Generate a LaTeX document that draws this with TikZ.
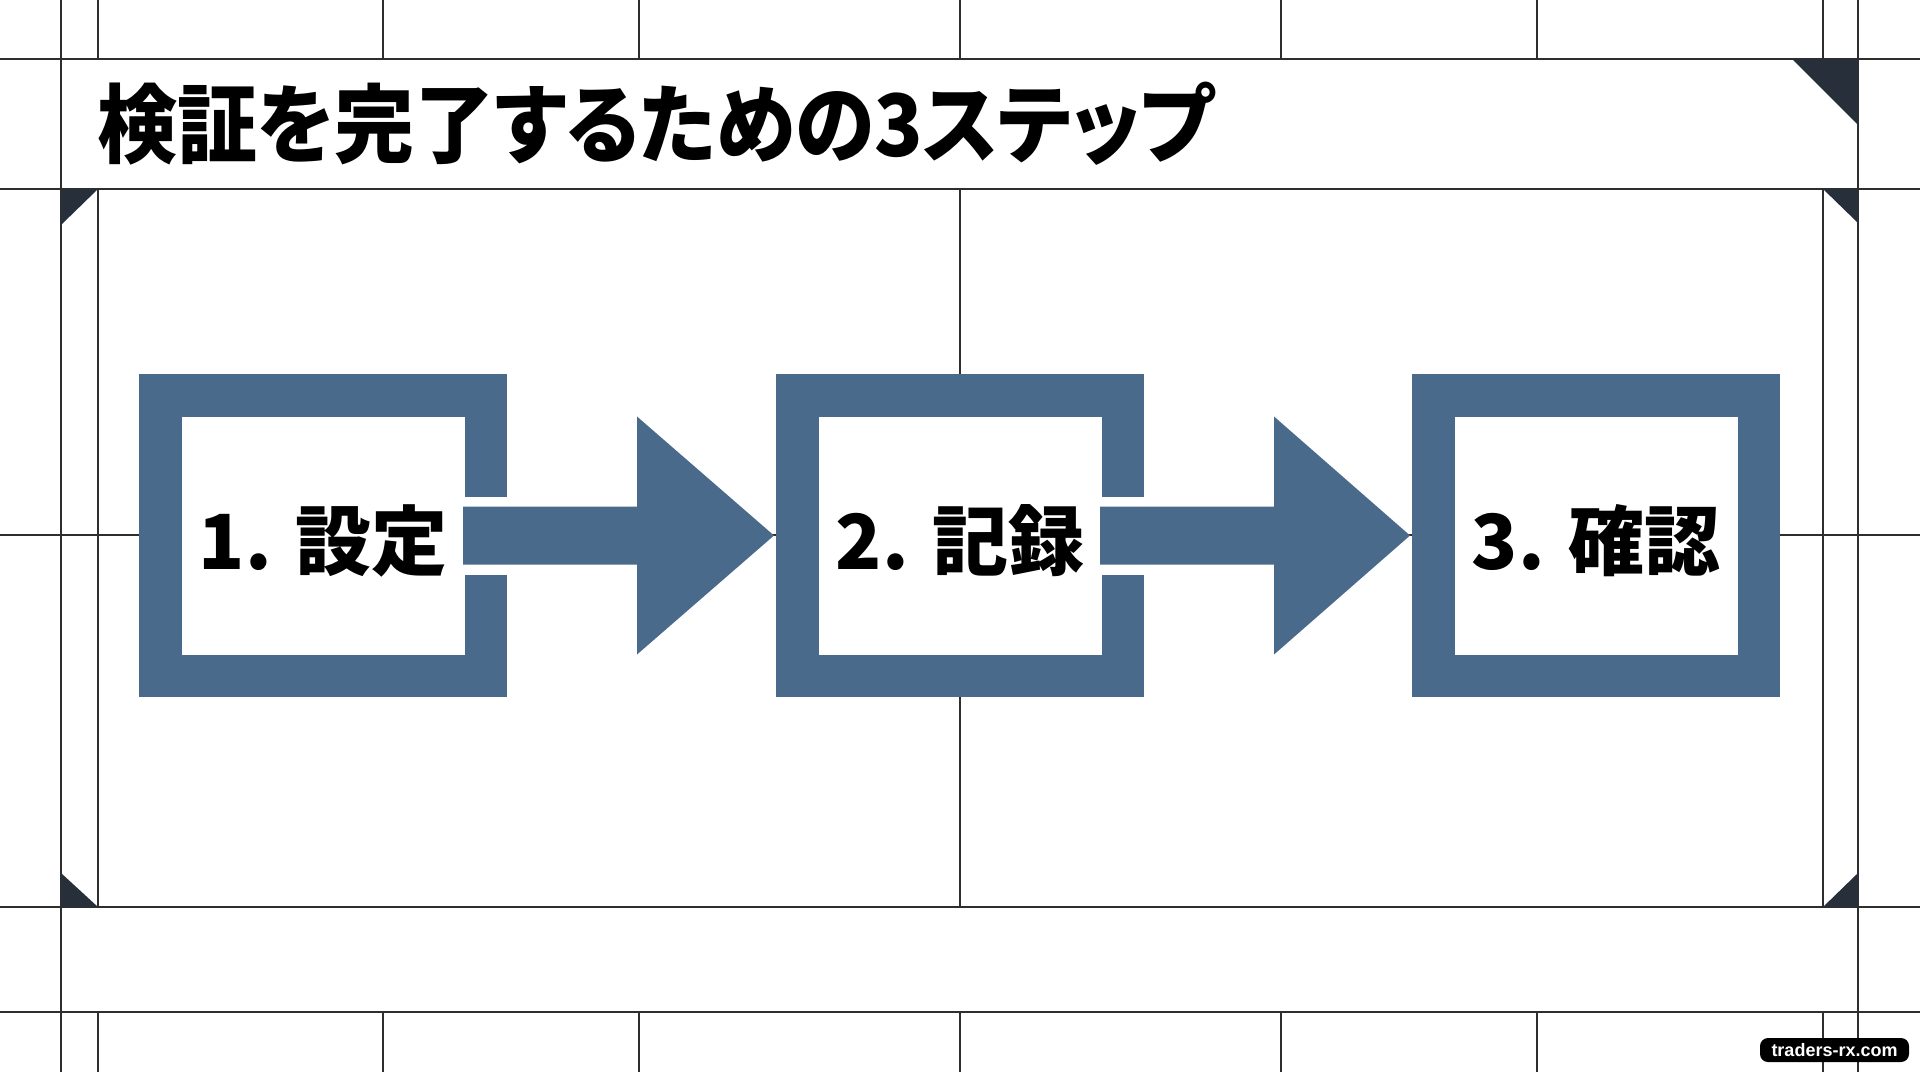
\documentclass[tikz,border=0pt]{standalone}
\usepackage{fontspec}
\usetikzlibrary{calc}
\newfontfamily\jpfont{Noto Sans CJK JP}[BoldFont={Noto Sans CJK JP Black}]
\newfontfamily\jptitle{Noto Sans CJK JP}[BoldFont={Noto Sans CJK JP Black},BoldFeatures={FakeStretch=0.93},RawFeature=+palt]
\newfontfamily\wmfont{Liberation Sans}
\definecolor{stepblue}{HTML}{4A6A8C}
\definecolor{gridline}{HTML}{2E2E2E}
\definecolor{cornerdark}{HTML}{262F3A}
\tikzset{
  gridln/.style={draw=gridline, line width=1.2pt},
  corner/.style={fill=cornerdark},
  stepbox/.style={draw=stepblue, line width=21.25pt, fill=white,
    minimum width=162.75pt, minimum height=140.25pt, inner sep=0pt},
  steptext/.style={inner sep=0pt, font=\jpfont\bfseries\fontsize{38}{38}\selectfont},
  flowarrow/.style={fill=stepblue},
  titletext/.style={anchor=west, inner sep=0pt, font=\jptitle\bfseries\fontsize{43}{43}\selectfont},
  wmark/.style={fill=black, rounded corners=4pt, text=white, inner sep=0pt,
    minimum width=74.5pt, minimum height=12pt, font=\wmfont\bfseries\fontsize{9}{9}\selectfont}
}
\begin{document}
\begin{tikzpicture}[x=0.5pt,y=-0.5pt]
\useasboundingbox (0,0) rectangle (1920,1072);
\fill[white] (0,0) rectangle (1920,1072);
% horizontal lines
\foreach \yy in {59,189,907,1012,535} \draw[gridln] (0,\yy) -- (1920,\yy);
% full height verticals
\foreach \xx in {61,1858} \draw[gridln] (\xx,0) -- (\xx,1072);
% top and bottom strips
\foreach \xx in {98,383,639,960,1281,1537,1823} {
  \draw[gridln] (\xx,0) -- (\xx,59);
  \draw[gridln] (\xx,1012) -- (\xx,1072);
}
% content area verticals
\foreach \xx in {98,960,1823} \draw[gridln] (\xx,189) -- (\xx,907);
% corner triangles
\fill[corner] (1792,59) -- (1858,59) -- (1858,125) -- cycle;
\fill[corner] (61,189) -- (98,189) -- (61,225) -- cycle;
\fill[corner] (1823,189) -- (1858,189) -- (1858,223) -- cycle;
\fill[corner] (61,873) -- (61,907) -- (98,907) -- cycle;
\fill[corner] (1823,907) -- (1858,907) -- (1858,873) -- cycle;
% title
\node[titletext] (title) at (97,124) {検証を完了するための3ステップ};
% step boxes
\node[stepbox] (s1) at (323,535.5) {};
\node[stepbox] (s2) at (960,535.5) {};
\node[stepbox] (s3) at (1596,535.5) {};
\node[steptext] (t1) at ($(s1.center)+(0,5)$) {1. 設定};
\node[steptext] (t2) at ($(s2.center)+(0,5)$) {2. 記録};
\node[steptext] (t3) at ($(s3.center)+(0,5)$) {3. 確認};
% arrows
\foreach \a/\b in {s1/s2, s2/s3} {
  \fill[white] ($(\a.center)+(141,-39)$) rectangle ($(\a.center)+(186,39)$);
  \fill[flowarrow] ($(\a.center)+(140,-29)$) -- ($(\a.center)+(314,-29)$)
    -- ($(\a.center)+(314,-119)$) -- ($(\b.center)+(-186,0)$)
    -- ($(\a.center)+(314,119)$) -- ($(\a.center)+(314,29)$)
    -- ($(\a.center)+(140,29)$) -- cycle;
}
% watermark
\node[wmark] (wm) at (1834.5,1050) {traders-rx.com};
\end{tikzpicture}
\end{document}
